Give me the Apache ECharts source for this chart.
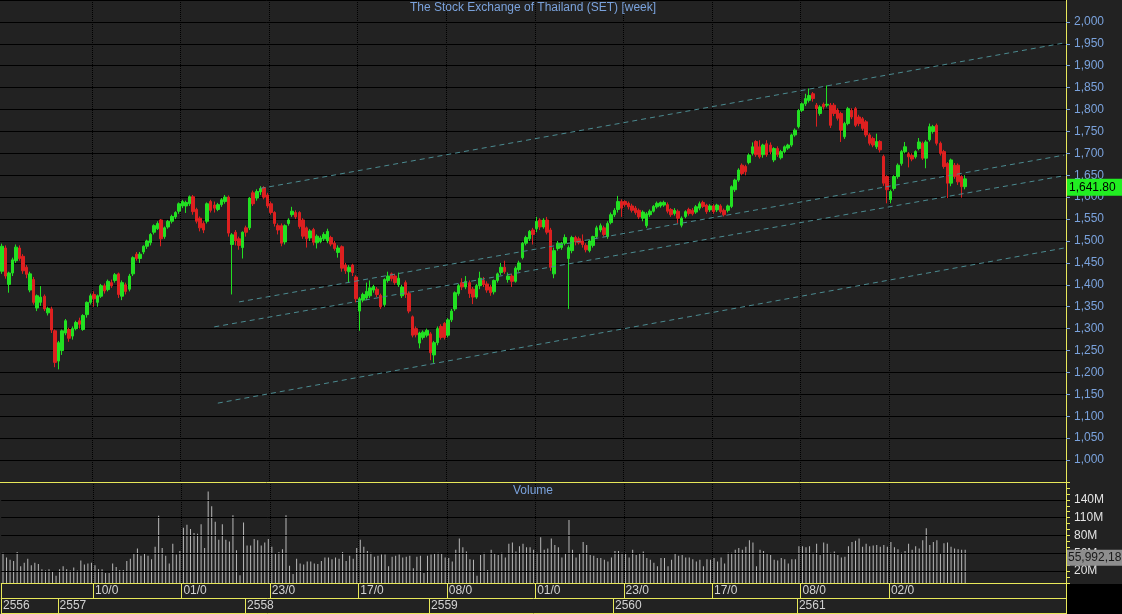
<!DOCTYPE html>
<html>
<head>
<meta charset="utf-8">
<title>SET weekly</title>
<script src="https://cdn.jsdelivr.net/npm/echarts@6/dist/echarts.min.js"></script>
<style>
  html, body { margin: 0; padding: 0; background: #222; }
  #chart { width: 1122px; height: 614px; }
</style>
</head>
<body>
<div id="chart"></div>
<script>
// one bar per week, first week Monday 09/09/2013, axis keeps some empty weeks on the right
const firstWeek = [2013, 8, 9]
const weekSlots = 301

const opens = [
  1431,1484,1401,1427,1455,1484,1465,1440,1388,1412,
  1347,1360,1374,1336,1345,1295,1226,1250,1290,1298,
  1283,1300,1318,1298,1332,1360,1378,1360,1374,1398,
  1389,1405,1410,1425,1374,1400,1390,1425,1470,1460,
  1475,1488,1496,1520,1528,1548,1510,1532,1545,1555,
  1568,1580,1580,1585,1601,1572,1552,1540,1545,1590,
  1582,1572,1583,1590,1600,1492,1520,1505,1485,1530,
  1530,1610,1598,1612,1622,1605,1585,1565,1535,1535,
  1498,1540,1560,1565,1565,1548,1530,1507,1526,1496,
  1499,1505,1500,1508,1495,1474,1487,1445,1430,1445,
  1418,1340,1365,1370,1375,1388,1390,1376,1355,1410,
  1425,1420,1400,1375,1405,1380,1327,1300,1267,1280,
  1285,1288,1240,1268,1305,1312,1285,1320,1345,1380,
  1405,1395,1405,1390,1372,1398,1410,1402,1395,1384,
  1410,1428,1440,1412,1420,1408,1435,1462,1495,1505,
  1525,1528,1548,1532,1548,1525,1425,1483,1485,1495,
  1460,1478,1508,1505,1500,1490,1478,1490,1510,1525,
  1530,1510,1542,1560,1572,1590,1590,1586,1580,1575,
  1570,1552,1535,1560,1568,1578,1580,1582,1583,1572,
  1563,1568,1536,1556,1572,1570,1566,1575,1588,1582,
  1571,1580,1571,1580,1570,1570,1579,1617,1639,1673,
  1670,1679,1700,1727,1715,1697,1722,1719,1685,1711,
  1690,1704,1712,1719,1742,1761,1798,1813,1821,1836,
  1810,1791,1812,1810,1810,1810,1799,1791,1738,1768,
  1798,1802,1783,1779,1772,1742,1734,1715,1727,1693,
  1647,1594,1620,1647,1677,1704,1699,1695,1692,1711,
  1723,1689,1731,1750,1764,1723,1704,1677,1632,1673,
  1673,1647,1624
]
const closes = [
  1488,1420,1427,1457,1486,1460,1432,1424,1425,1360,
  1375,1372,1345,1346,1297,1223,1268,1295,1318,1278,
  1300,1314,1310,1330,1360,1375,1368,1375,1398,1386,
  1408,1398,1423,1378,1405,1385,1420,1462,1460,1470,
  1488,1500,1515,1535,1540,1505,1530,1545,1556,1565,
  1585,1590,1588,1601,1567,1545,1530,1525,1585,1570,
  1575,1583,1594,1600,1518,1514,1500,1490,1520,1520,
  1598,1585,1613,1620,1600,1580,1565,1540,1525,1495,
  1535,1548,1568,1555,1533,1511,1505,1523,1497,1511,
  1507,1515,1522,1493,1483,1484,1438,1432,1440,1428,
  1368,1368,1378,1385,1393,1396,1378,1350,1412,1420,
  1414,1405,1415,1395,1378,1340,1285,1286,1290,1292,
  1296,1245,1268,1300,1280,1280,1320,1340,1382,1398,
  1395,1408,1380,1372,1398,1415,1400,1388,1382,1410,
  1425,1440,1430,1420,1408,1438,1450,1495,1508,1522,
  1515,1545,1532,1548,1520,1440,1478,1495,1495,1508,
  1485,1508,1498,1496,1492,1480,1500,1510,1530,1535,
  1515,1540,1560,1570,1590,1575,1583,1578,1570,1565,
  1555,1566,1562,1568,1579,1586,1588,1588,1568,1560,
  1570,1552,1552,1567,1563,1562,1578,1585,1579,1567,
  1580,1567,1582,1567,1560,1580,1624,1639,1662,1654,
  1658,1696,1715,1697,1692,1719,1697,1704,1711,1697,
  1704,1715,1719,1742,1753,1798,1813,1825,1832,1825,
  1802,1806,1806,1812,1764,1791,1780,1753,1768,1802,
  1783,1764,1768,1757,1742,1723,1719,1727,1708,1632,
  1617,1613,1647,1673,1704,1715,1692,1687,1704,1726,
  1689,1726,1761,1761,1723,1700,1670,1632,1685,1647,
  1635,1624,1641.8
]
const lows = [
  1425,1414,1382,1420,1450,1455,1425,1415,1383,1355,
  1340,1352,1340,1330,1290,1212,1207,1240,1285,1270,
  1275,1296,1300,1295,1325,1355,1350,1350,1370,1380,
  1385,1393,1405,1370,1365,1378,1385,1420,1455,1450,
  1470,1482,1490,1515,1525,1488,1505,1528,1540,1550,
  1562,1575,1564,1580,1560,1540,1522,1518,1540,1565,
  1565,1568,1578,1585,1510,1378,1490,1480,1460,1510,
  1525,1580,1592,1605,1595,1575,1560,1533,1515,1488,
  1492,1535,1555,1550,1528,1505,1485,1500,1490,1483,
  1495,1500,1495,1488,1478,1462,1430,1425,1405,1420,
  1360,1295,1360,1365,1370,1382,1372,1345,1350,1405,
  1408,1400,1395,1370,1370,1335,1280,1280,1255,1275,
  1280,1228,1222,1262,1275,1275,1280,1315,1340,1375,
  1388,1390,1370,1356,1368,1390,1395,1382,1375,1378,
  1405,1422,1425,1405,1395,1405,1430,1458,1490,1500,
  1492,1520,1525,1528,1515,1432,1415,1478,1480,1490,
  1345,1472,1490,1492,1485,1474,1474,1485,1505,1520,
  1510,1505,1538,1555,1565,1555,1578,1572,1565,1560,
  1550,1545,1530,1555,1565,1574,1576,1578,1563,1555,
  1558,1540,1531,1552,1558,1558,1562,1570,1575,1562,
  1566,1562,1566,1563,1556,1565,1575,1612,1635,1650,
  1650,1675,1695,1692,1688,1690,1692,1698,1680,1692,
  1686,1700,1708,1715,1738,1757,1794,1808,1816,1818,
  1761,1786,1800,1805,1758,1785,1775,1726,1733,1764,
  1778,1760,1762,1752,1737,1718,1714,1710,1702,1626,
  1586,1586,1615,1642,1672,1700,1668,1682,1688,1707,
  1685,1666,1727,1745,1718,1695,1665,1598,1625,1642,
  1628,1599,1618
]
const highs = [
  1494,1490,1430,1462,1492,1490,1470,1445,1430,1418,
  1378,1397,1378,1350,1350,1298,1272,1298,1322,1302,
  1305,1318,1325,1333,1362,1380,1385,1378,1402,1403,
  1412,1412,1427,1428,1410,1405,1425,1465,1475,1475,
  1490,1503,1518,1538,1545,1550,1533,1548,1560,1568,
  1588,1594,1592,1604,1605,1576,1556,1545,1588,1594,
  1590,1587,1598,1605,1604,1518,1525,1510,1522,1535,
  1600,1615,1618,1625,1625,1610,1590,1568,1540,1540,
  1538,1552,1578,1570,1568,1552,1533,1527,1530,1515,
  1512,1520,1528,1512,1500,1490,1490,1450,1445,1448,
  1422,1372,1382,1405,1410,1400,1395,1380,1415,1430,
  1428,1425,1428,1400,1410,1385,1330,1305,1293,1296,
  1300,1292,1272,1305,1310,1315,1324,1345,1385,1402,
  1415,1420,1410,1395,1402,1430,1418,1408,1400,1412,
  1428,1450,1455,1428,1425,1442,1455,1498,1512,1525,
  1530,1555,1552,1552,1555,1530,1485,1500,1498,1515,
  1490,1512,1512,1510,1515,1495,1503,1512,1535,1540,
  1535,1545,1565,1575,1603,1595,1593,1590,1585,1580,
  1574,1570,1566,1572,1582,1590,1590,1592,1588,1575,
  1575,1572,1556,1570,1576,1575,1582,1590,1592,1585,
  1584,1584,1585,1584,1574,1583,1627,1642,1666,1677,
  1674,1700,1725,1730,1730,1722,1730,1725,1714,1716,
  1708,1718,1722,1745,1757,1801,1816,1836,1848,1840,
  1815,1810,1816,1855,1815,1815,1803,1795,1772,1806,
  1803,1806,1788,1783,1776,1746,1738,1745,1730,1697,
  1650,1617,1650,1677,1708,1726,1703,1700,1707,1735,
  1727,1730,1768,1765,1768,1727,1708,1680,1688,1678,
  1677,1650,1650
]
// weekly volume, millions of shares
const volumes = [
  51,43,39,37,52,28,34,41,30,34,
  32,23,21,23,20,12,23,28,23,21,
  26,21,38,31,33,34,30,23,23,17,
  17,33,27,22,22,37,41,50,58,46,
  50,46,40,61,113,59,46,33,66,48,
  54,93,98,91,84,83,99,59,154,129,
  103,73,99,73,70,114,55,13,102,63,
  63,74,72,63,68,74,61,49,52,57,
  114,29,15,41,33,31,36,36,33,32,
  37,43,43,40,43,41,52,37,46,41,
  59,73,61,54,51,44,46,48,48,28,
  44,46,48,43,44,46,25,44,46,17,
  46,48,50,51,50,43,42,36,56,75,
  60,53,40,39,12,47,51,22,56,50,
  47,51,43,66,68,53,62,66,60,60,
  56,51,77,56,58,75,64,60,43,50,
  106,56,43,49,69,64,47,46,42,42,
  39,36,43,54,54,51,51,43,56,47,
  49,53,42,39,34,28,42,42,28,39,
  49,46,47,43,43,40,36,39,28,40,
  39,42,36,43,33,51,51,56,59,56,
  61,72,68,28,56,54,50,47,39,38,
  42,40,33,40,40,62,62,60,62,51,
  66,47,68,66,51,53,47,43,44,62,
  69,71,75,61,66,62,63,64,61,64,
  61,69,60,57,51,54,66,56,62,58,
  72,92,64,69,72,49,67,68,61,58,
  57,56,55.99218
]

// channel lines: [week index, index level] at each end
const trendLines = [
  [[73, 1620], [300, 1952]],
  [[67, 1361], [300, 1696]],
  [[60, 1304], [300, 1649]],
  [[61, 1130], [300, 1484]]
]

const dateTickLabels = ['10/03/2014', '01/09/2014', '23/02/2015', '17/08/2015', '08/02/2016',
  '01/08/2016', '23/01/2017', '17/07/2017', '08/01/2018', '02/07/2018']
const yearTickWeeks = ['09/09/2013', '30/12/2013', '05/01/2015', '04/01/2016', '02/01/2017', '01/01/2018']
const yearTickLabels = ['2556', '2557', '2558', '2559', '2560', '2561']
const volTicks = [20, 50, 80, 110, 140]

const pad = n => (n < 10 ? '0' : '') + n
const weeks = []
for (let k = 0; k < weekSlots; k++) {
  const d = new Date(Date.UTC(firstWeek[0], firstWeek[1], firstWeek[2] + k * 7))
  weeks.push(pad(d.getUTCDate()) + '/' + pad(d.getUTCMonth() + 1) + '/' + d.getUTCFullYear())
}
const dateIdx = dateTickLabels.map(s => weeks.indexOf(s))
const yearIdx = yearTickWeeks.map(s => weeks.indexOf(s))
const yearByWeek = {}
yearTickWeeks.forEach((w, k) => { yearByWeek[w] = yearTickLabels[k] })

const candles = opens.map((o, i) => [o, closes[i], lows[i], highs[i]])
const last = closes.length - 1

const YELLOW = '#e8e85a'
const BLUE = '#7aa2dc'
const LIGHT = '#d2d2d2'
const FONT = 'Arial, "Liberation Sans", sans-serif'

const chart = echarts.init(document.getElementById('chart'))

const option = {
  backgroundColor: '#222',
  animation: false,
  textStyle: { fontFamily: FONT },
  title: [
    {
      text: 'The Stock Exchange of Thailand (SET) [week]',
      left: 533, top: 2, padding: 0, textAlign: 'center',
      textStyle: { color: BLUE, fontSize: 12, fontWeight: 'normal', fontFamily: FONT }
    },
    {
      text: 'Volume',
      left: 533, top: 485, padding: 0, textAlign: 'center',
      textStyle: { color: BLUE, fontSize: 12, fontWeight: 'normal', fontFamily: FONT }
    }
  ],
  grid: [
    { left: 0, right: 56, top: 0, height: 482 },
    { left: 0, right: 56, top: 482, height: 101 }
  ],
  xAxis: [
    {
      type: 'category', gridIndex: 0, data: weeks,
      axisLine: { lineStyle: { color: YELLOW } },
      axisTick: { show: false },
      axisLabel: { show: false },
      splitLine: { show: true, interval: i => dateIdx.includes(i), lineStyle: { color: '#000', type: 'dotted' } }
    },
    {
      type: 'category', gridIndex: 1, data: weeks,
      axisLine: { lineStyle: { color: YELLOW } },
      axisTick: { show: true, interval: i => i === 0 || dateIdx.includes(i), length: 15, lineStyle: { color: YELLOW } },
      axisLabel: {
        interval: i => dateIdx.includes(i), align: 'left', margin: 2,
        color: LIGHT, fontSize: 12, fontFamily: FONT,
        width: 27, overflow: 'truncate', ellipsis: ''
      },
      splitLine: { show: true, interval: i => dateIdx.includes(i), lineStyle: { color: '#000', type: 'dotted' } }
    },
    {
      type: 'category', gridIndex: 1, data: weeks, position: 'bottom', offset: 15,
      axisLine: { lineStyle: { color: YELLOW } },
      axisTick: { show: true, interval: i => yearIdx.includes(i), length: 15, lineStyle: { color: YELLOW } },
      axisLabel: {
        interval: i => yearIdx.includes(i), align: 'left', margin: 2,
        color: LIGHT, fontSize: 12, fontFamily: FONT,
        formatter: v => yearByWeek[v] || ''
      },
      splitLine: { show: false }
    },
    {
      type: 'category', gridIndex: 1, data: weeks, position: 'bottom', offset: 30,
      axisLine: { lineStyle: { color: YELLOW } },
      axisTick: { show: false },
      axisLabel: { show: false }
    }
  ],
  yAxis: [
    {
      type: 'value', gridIndex: 0, position: 'right',
      min: 950, max: 2050, interval: 50,
      axisLine: { show: true, lineStyle: { color: YELLOW } },
      axisTick: { show: true, length: 4, lineStyle: { color: BLUE } },
      axisLabel: {
        color: BLUE, fontSize: 12, fontFamily: FONT, margin: 8,
        showMinLabel: false, showMaxLabel: false,
        formatter: v => v.toLocaleString('en-US')
      },
      splitLine: { show: true, lineStyle: { color: '#000', width: 1 } }
    },
    {
      type: 'value', gridIndex: 1, position: 'right',
      min: 0, max: 170, interval: 10,
      axisLine: { show: true, lineStyle: { color: YELLOW } },
      axisTick: { show: true, length: 4, lineStyle: { color: YELLOW } },
      axisLabel: {
        color: '#e4e4e4', fontSize: 12, fontFamily: FONT, margin: 8,
        formatter: v => (volTicks.includes(v) ? v + 'M' : '')
      },
      splitLine: { show: false }
    }
  ],
  graphic: [
    { type: 'rect', left: 1067, top: 584, shape: { width: 55, height: 30 }, style: { fill: '#000' }, silent: true },
    { type: 'line', shape: { x1: 1066.5, y1: 583, x2: 1066.5, y2: 614 }, style: { stroke: YELLOW, lineWidth: 1 }, silent: true }
  ],
  series: [
    {
      type: 'candlestick', xAxisIndex: 0, yAxisIndex: 0,
      data: candles, barWidth: 3,
      itemStyle: {
        color: '#22e022', color0: '#dd2020',
        borderColor: '#22e022', borderColor0: '#dd2020', borderWidth: 1
      },
      markLine: {
        silent: true, symbol: ['none', 'none'],
        lineStyle: { color: 'transparent' },
        label: {
          show: true, position: 'end', distance: 1, verticalAlign: 'top',
          backgroundColor: '#22ee22', color: '#000', fontSize: 12, fontFamily: FONT,
          padding: [3, 8, 2, 2],
          formatter: () => closes[last].toLocaleString('en-US', { minimumFractionDigits: 2 })
        },
        data: [{ yAxis: closes[last] }]
      }
    },
    ...trendLines.map(seg => ({
      type: 'line', xAxisIndex: 0, yAxisIndex: 0,
      data: seg, symbol: 'none', silent: true,
      lineStyle: { color: '#4b8a90', width: 1, type: [5, 4] }
    })),
    {
      type: 'line', xAxisIndex: 1, yAxisIndex: 1, data: [], z: 1, silent: true,
      markLine: {
        silent: true, symbol: ['none', 'none'],
        lineStyle: { color: '#000', width: 1, type: 'solid' },
        label: { show: false },
        data: volTicks.map(v => ({ yAxis: v }))
      }
    },
    {
      type: 'bar', xAxisIndex: 1, yAxisIndex: 1,
      data: volumes, barWidth: 1, z: 2,
      itemStyle: { color: '#b8b8b8' },
      markLine: {
        silent: true, symbol: ['none', 'none'],
        lineStyle: { color: 'transparent' },
        label: {
          show: true, position: 'end', distance: 1, verticalAlign: 'top',
          backgroundColor: '#8e8e8e', color: '#1a1a1a', fontSize: 12, fontFamily: FONT,
          padding: [2, 8, 2, 1],
          formatter: () => Math.round(volumes[last] * 1e6).toLocaleString('en-US')
        },
        data: [{ yAxis: volumes[last] }]
      }
    }
  ]
}

chart.setOption(option)
</script>
</body>
</html>
